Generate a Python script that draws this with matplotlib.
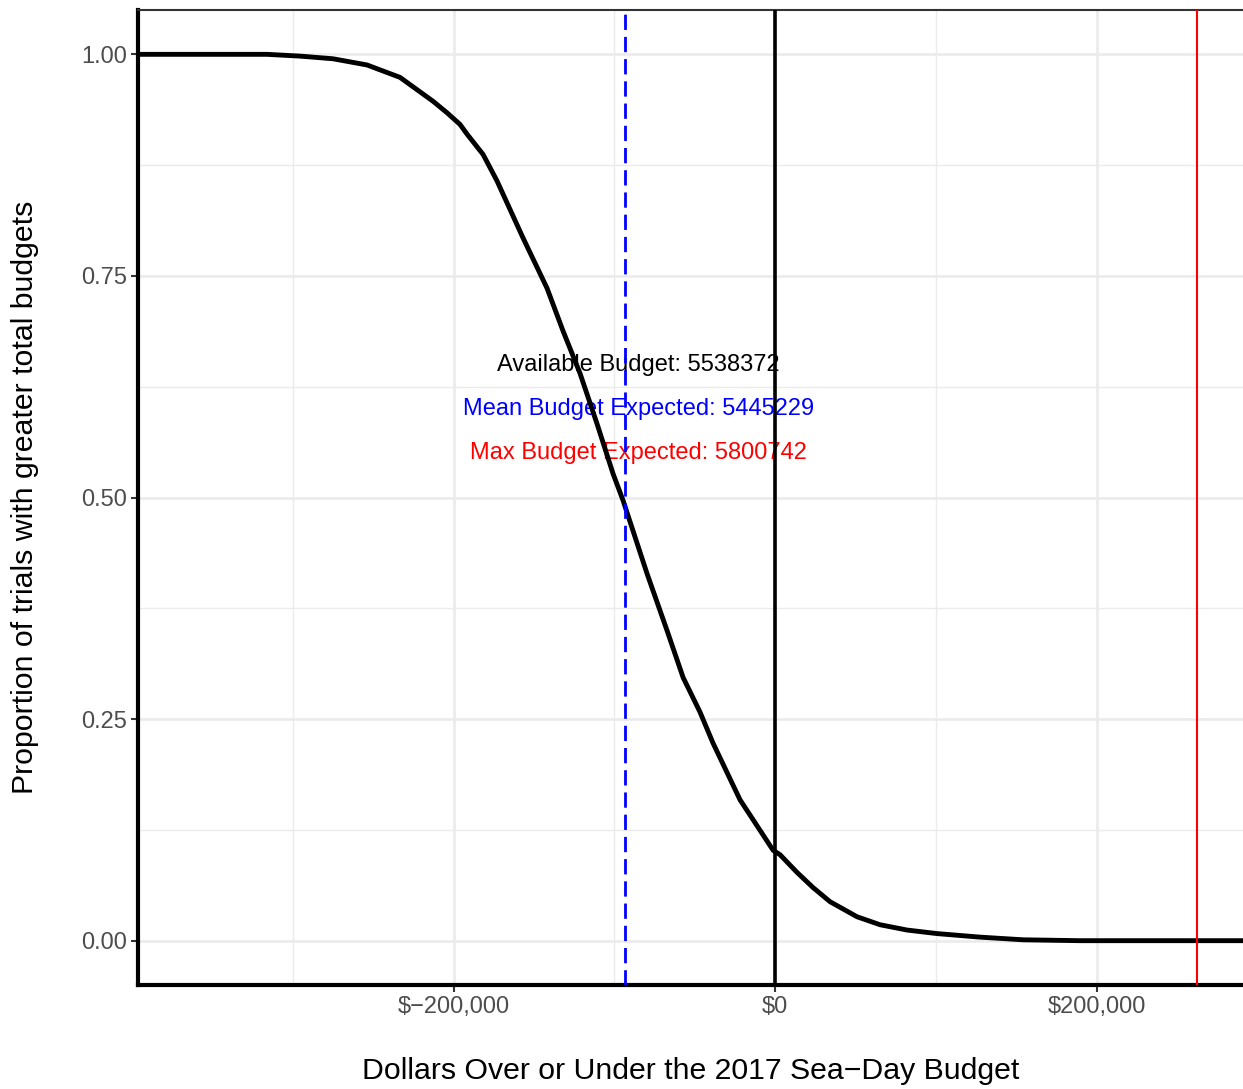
import matplotlib
matplotlib.use("Agg")
import matplotlib.pyplot as plt
from matplotlib.ticker import FixedLocator, FuncFormatter

plt.rcParams['font.family'] = ['Liberation Sans', 'DejaVu Sans']

# values (dollars over/under budget, proportion)
diff_dollars = [-396300, -316000, -295500, -275000, -253800, -233300, -212700,
                -204000, -196000, -191600, -181600, -172900, -156800, -141800,
                -131900, -121300, -110700, -100800, -94600, -79600, -67200,
                -57200, -46700, -38600, -21800, -1200, 3100, 13700, 23600,
                34200, 51000, 65300, 82100, 100800, 127500, 154300, 189700,
                291100]
prop_greater = [1.000, 1.000, 0.998, 0.995, 0.988, 0.974, 0.947,
                0.934, 0.921, 0.910, 0.887, 0.857, 0.793, 0.736,
                0.688, 0.640, 0.583, 0.527, 0.497, 0.414, 0.350,
                0.297, 0.258, 0.223, 0.159, 0.102, 0.097, 0.077, 0.060,
                0.044, 0.027, 0.018, 0.012, 0.008, 0.004, 0.001, 0.000,
                0.000]

available_budget = 5538372
mean_budget = 5445229
max_budget = 5800742

x_ticks = [-200000, 0, 200000]
x_minor = [-300000, -100000, 100000]
y_ticks = [0.0, 0.25, 0.5, 0.75, 1.0]
y_minor = [0.125, 0.375, 0.625, 0.875]

fig = plt.figure(figsize=(12.43, 10.89), dpi=100)
ax = fig.add_axes([0.111, 0.0955, 0.889, 0.8953])

# labels go under the lines, as in the original
ann_x = -85200
ax.text(ann_x, 0.65, f"Available Budget: {available_budget}", color='black',
        fontsize=17, ha='center', va='center', zorder=1)
ax.text(ann_x, 0.60, f"Mean Budget Expected: {mean_budget}", color='#0000FF',
        fontsize=17, ha='center', va='center', zorder=1)
ax.text(ann_x, 0.55, f"Max Budget Expected: {max_budget}", color='#FF0000',
        fontsize=17, ha='center', va='center', zorder=1)

ax.plot(diff_dollars, prop_greater, color='black', lw=3.5,
        solid_joinstyle='round', zorder=3)
ax.axvline(0, color='black', lw=2.6, zorder=4)
ax.axvline(mean_budget - available_budget, color='#0000FF', lw=2.0,
           dashes=(5.5, 2.5), zorder=4)
ax.axvline(max_budget - available_budget, color='#FF0000', lw=1.5, zorder=4)

ax.set_xlim(-396300, 291100)
ax.set_ylim(-0.05, 1.05)

ax.xaxis.set_major_locator(FixedLocator(x_ticks))
ax.xaxis.set_minor_locator(FixedLocator(x_minor))
ax.yaxis.set_major_locator(FixedLocator(y_ticks))
ax.yaxis.set_minor_locator(FixedLocator(y_minor))


def dollar_fmt(v, pos):
    s = f"{abs(int(round(v))):,}"
    return ("$\u2212" + s) if v < 0 else ("$" + s)


ax.xaxis.set_major_formatter(FuncFormatter(dollar_fmt))
ax.yaxis.set_major_formatter(FuncFormatter(lambda v, p: f"{v:.2f}"))

ax.set_axisbelow(True)
ax.grid(which='major', color='#EBEBEB', lw=1.9, zorder=0)
ax.grid(which='minor', color='#EBEBEB', lw=1.0, zorder=0)

ax.tick_params(which='major', length=5, width=1.5, color='#333333',
               labelsize=17, labelcolor='#4D4D4D', pad=3)
ax.tick_params(which='minor', length=0)

for side in ('left', 'bottom'):
    ax.spines[side].set_linewidth(3.0)
    ax.spines[side].set_color('black')
ax.spines['top'].set_linewidth(1.5)
ax.spines['top'].set_color('#333333')
ax.spines['right'].set_visible(False)

ax.set_xlabel("Dollars Over or Under the 2017 Sea\u2212Day Budget",
              fontsize=21.8, color='black', labelpad=28)
ax.set_ylabel("Proportion of trials with greater total budgets",
              fontsize=21.8, color='black', labelpad=30)

fig.savefig("out.png", dpi=100)
